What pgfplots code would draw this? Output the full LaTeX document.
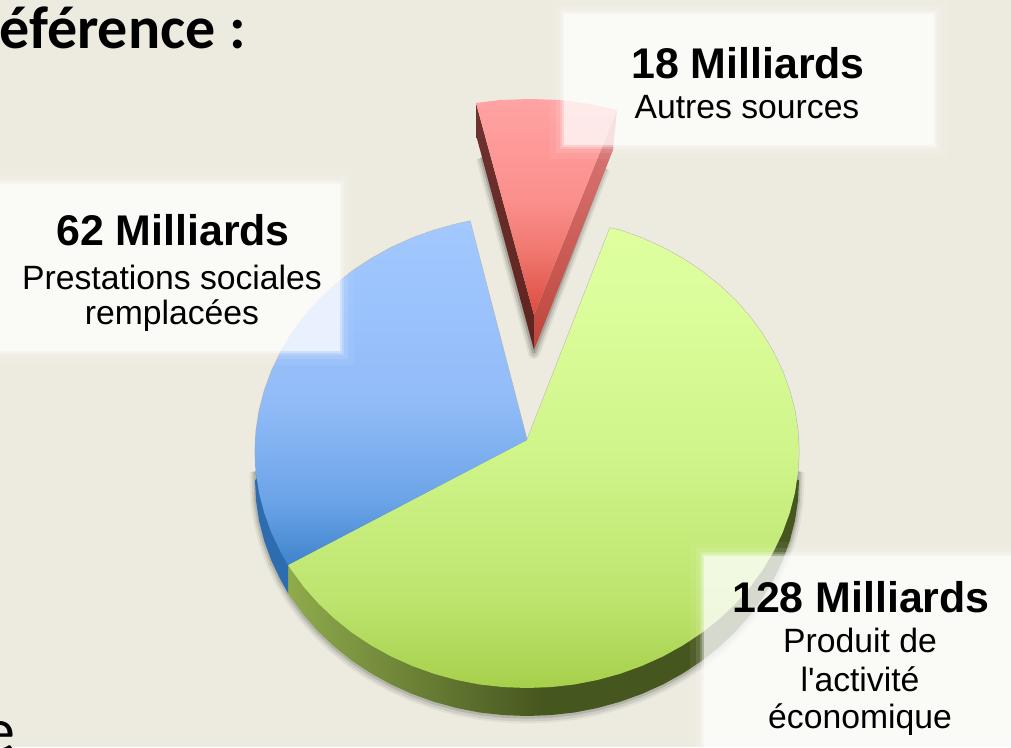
\documentclass[border=0pt]{standalone}
\usepackage{fontspec}
\usepackage{pgfplots}
\usepackage{pgfplotstable}
\pgfplotsset{compat=1.18}
\setmainfont{Liberation Sans}[Ligatures=TeXOff]
\newfontfamily\carlito{Carlito}
\definecolor{bg}{HTML}{EDEBE0}
\definecolor{gsA}{HTML}{8FAB4C}
\definecolor{gsB}{HTML}{46561F}
\definecolor{bs}{HTML}{2E6CB0}
\definecolor{gA}{HTML}{DFFF9E}
\definecolor{gAb}{HTML}{DCFD9B}
\definecolor{gB}{HTML}{D0F58B}
\definecolor{gBb}{HTML}{BDE46E}
\definecolor{gC}{HTML}{A6D04B}
\definecolor{bA}{HTML}{A3C8FF}
\definecolor{bB}{HTML}{92BCF8}
\definecolor{bBb}{HTML}{6CA4E8}
\definecolor{bC}{HTML}{3F84CC}
\definecolor{rlA}{HTML}{70332F}
\definecolor{rlB}{HTML}{5E231F}
\definecolor{rrA}{HTML}{DC7C7C}
\definecolor{rrB}{HTML}{BE453A}
\definecolor{rA}{HTML}{FFA3A3}
\definecolor{rB}{HTML}{FB8F8C}
\definecolor{rBb}{HTML}{F07870}
\definecolor{rC}{HTML}{DC4C3F}
\pgfdeclareverticalshading{greenS}{100bp}{color(0bp)=(gC); color(25bp)=(gC); color(34.6bp)=(gBb); color(51bp)=(gB); color(67bp)=(gAb); color(75bp)=(gA); color(100bp)=(gA)}
\pgfdeclareverticalshading{blueS}{100bp}{color(0bp)=(bC); color(25bp)=(bC); color(34.4bp)=(bBb); color(49bp)=(bB); color(75bp)=(bA); color(100bp)=(bA)}
\pgfdeclareverticalshading{redS}{100bp}{color(0bp)=(rC); color(25bp)=(rC); color(40bp)=(rBb); color(51.6bp)=(rB); color(75bp)=(rA); color(100bp)=(rA)}
\pgfplotstableread{
x y
799 452
798 431.4
794.9 410.9
789.7 390.9
782.6 371.3
773.5 352.3
762.6 334
749.8 316.6
735.4 300.3
719.3 285.1
701.9 271.2
683 258.7
663 247.6
641.9 238.1
620 230.2
610 228
527 440
288 565
291.4 570
304.2 587.4
318.6 603.7
334.7 618.9
352.1 632.8
371 645.3
391 656.4
412.1 665.9
434 673.8
456.6 680
479.7 684.5
503.3 687.1
527 688
550.7 687.1
574.3 684.5
597.4 680
620 673.8
641.9 665.9
663 656.4
683 645.3
701.9 632.8
719.3 618.9
735.4 603.7
749.8 587.4
762.6 570
773.5 551.7
782.6 532.7
789.7 513.1
794.9 493.1
798 472.6
}\greenface
\pgfplotstableread{
x y
527 440
470 221
456.6 224
434 230.2
412.1 238.1
391 247.6
371 258.7
352.1 271.2
334.7 285.1
318.6 300.3
304.2 316.6
291.4 334
280.5 352.3
271.4 371.3
264.3 390.9
259.1 410.9
256 431.4
255 452
256 472.6
259.1 493.1
264.3 513.1
271.4 532.7
280.5 551.7
288 565
}\blueface
\pgfplotstableread{
x y
799 480
798 500.6
794.9 521.1
789.7 541.1
782.6 560.7
773.5 579.7
762.6 598
749.8 615.4
735.4 631.7
719.3 646.9
701.9 660.8
683 673.3
663 684.4
641.9 693.9
620 701.8
597.4 708
574.3 712.5
550.7 715.1
527 716
503.3 715.1
479.7 712.5
456.6 708
434 701.8
412.1 693.9
391 684.4
371 673.3
352.1 660.8
334.7 646.9
318.6 631.7
304.2 615.4
291.4 598
288 593
288 565
527 440
}\greenside
\pgfplotstableread{
x y
255 480
256 500.6
259.1 521.1
264.3 541.1
271.4 560.7
280.5 579.7
288 593
288 565
300 452
}\blueside
\pgfplotstableread{
x y
255 470
256 500.6
259.1 521.1
264.3 541.1
271.4 560.7
280.5 579.7
291.4 598
304.2 615.4
318.6 631.7
334.7 646.9
352.1 660.8
371 673.3
391 684.4
412.1 693.9
434 701.8
456.6 708
479.7 712.5
503.3 715.1
527 716
550.7 715.1
574.3 712.5
597.4 708
620 701.8
641.9 693.9
663 684.4
683 673.3
701.9 660.8
719.3 646.9
735.4 631.7
749.8 615.4
762.6 598
773.5 579.7
782.6 560.7
789.7 541.1
794.9 521.1
798 500.6
799 470
}\piebottom
\pgfplotstableread{
x y
476 103
500 100
530 99
560 100
590 104
617 110
534 315
}\redface
\pgfplotstableread{
x y
476 103
476 135
534 350
534 315
}\redleft
\pgfplotstableread{
x y
617 110
613 150
534 350
534 315
}\redright
\pgfplotstableread{
x y
482 155
534 350
604 165
}\redshadow
\begin{document}
\begin{tikzpicture}
\clip (0,0) rectangle (1011pt,747pt);
\begin{axis}[
  at={(0,0)}, anchor=south west,
  scale only axis, width=1011pt, height=747pt,
  xmin=0, xmax=1011, ymin=0, ymax=747, y dir=reverse,
  hide axis, no markers, clip=false,
  every axis plot/.append style={line join=round},
  shad/.style={draw=black, fill=none, draw opacity=#1},
  pan/.style={fill=white, fill opacity=#1, draw=none},
]
% background
\addplot[fill=bg, draw=none] coordinates {(0,0) (1011,0) (1011,747) (0,747)} -- cycle;
% shadows
\addplot[shad=0.05, line width=11pt, yshift=-2pt] table[x=x,y=y] {\piebottom};
\addplot[shad=0.08, line width=7pt, yshift=-2pt] table[x=x,y=y] {\piebottom};
\addplot[shad=0.12, line width=3.5pt, yshift=-1pt] table[x=x,y=y] {\piebottom};
\addplot[shad=0.06, line width=12pt, yshift=-3pt] table[x=x,y=y] {\redshadow};
\addplot[shad=0.10, line width=8pt, yshift=-3pt] table[x=x,y=y] {\redshadow};
\addplot[shad=0.16, line width=4pt, yshift=-2pt] table[x=x,y=y] {\redshadow};
\addplot[shad=0.22, line width=1pt] table[x=x,y=y] {\greenface} -- cycle;
\addplot[shad=0.22, line width=1pt] table[x=x,y=y] {\blueface} -- cycle;
% pie sides
\addplot[draw=none, left color=gsA, right color=gsB, middle color=gsB] table[x=x,y=y] {\greenside} -- cycle;
\addplot[draw=none, fill=bs] table[x=x,y=y] {\blueside} -- cycle;
% pie faces
\addplot[draw=none, shade, shading=greenS] table[x=x,y=y] {\greenface} -- cycle;
\addplot[draw=none, shade, shading=blueS] table[x=x,y=y] {\blueface} -- cycle;
% exploded slice
\addplot[draw=none, top color=rlA, bottom color=rlB] table[x=x,y=y] {\redleft} -- cycle;
\addplot[draw=none, top color=rrA, bottom color=rrB] table[x=x,y=y] {\redright} -- cycle;
\addplot[draw=none, shade, shading=redS] table[x=x,y=y] {\redface} -- cycle;
% label panels
\addplot[pan=0.06] coordinates {(550,0) (948,0) (948,159) (550,159)} -- cycle;
\addplot[pan=0.10] coordinates {(556,6) (942,6) (942,153) (556,153)} -- cycle;
\addplot[pan=0.20] coordinates {(560,10) (938,10) (938,149) (560,149)} -- cycle;
\addplot[pan=0.30] coordinates {(562,12) (936,12) (936,147) (562,147)} -- cycle;
\addplot[pan=0.55] coordinates {(564,14) (934,14) (934,145) (564,145)} -- cycle;
\addplot[pan=0.06] coordinates {(0,170) (354,170) (354,365) (0,365)} -- cycle;
\addplot[pan=0.10] coordinates {(0,176) (348,176) (348,359) (0,359)} -- cycle;
\addplot[pan=0.20] coordinates {(0,180) (344,180) (344,355) (0,355)} -- cycle;
\addplot[pan=0.30] coordinates {(0,182) (342,182) (342,353) (0,353)} -- cycle;
\addplot[pan=0.55] coordinates {(0,184) (340,184) (340,351) (0,351)} -- cycle;
\addplot[pan=0.06] coordinates {(690,542) (1011,542) (1011,747) (690,747)} -- cycle;
\addplot[pan=0.10] coordinates {(696,548) (1011,548) (1011,747) (696,747)} -- cycle;
\addplot[pan=0.20] coordinates {(700,552) (1011,552) (1011,747) (700,747)} -- cycle;
\addplot[pan=0.30] coordinates {(702,554) (1011,554) (1011,747) (702,747)} -- cycle;
\addplot[pan=0.55] coordinates {(704,556) (1011,556) (1011,747) (704,747)} -- cycle;
% texts
\def\bigtxt{\fontsize{42.9}{48}\selectfont\bfseries}
\def\regtxt{\fontsize{33.7}{40}\selectfont}
\node[anchor=base] at (axis cs:748,78) {\bigtxt 18 Milliards};
\node[anchor=base] at (axis cs:747,118) {\regtxt Autres sources};
\node[anchor=base] at (axis cs:173,245) {\bigtxt 62 Milliards};
\node[anchor=base] at (axis cs:172,289) {\regtxt Prestations sociales};
\node[anchor=base] at (axis cs:172,324) {\regtxt remplacées};
\node[anchor=base] at (axis cs:861,612) {\bigtxt 128 Milliards};
\node[anchor=base] at (axis cs:860,652) {\regtxt Produit de};
\node[anchor=base] at (axis cs:860,691) {\regtxt l'activité};
\node[anchor=base] at (axis cs:860,728) {\regtxt économique};
\node[anchor=base east, inner sep=0pt] at (axis cs:246,48) {\fontsize{60}{70}\selectfont\carlito\bfseries Référence :};
\node[anchor=base east, inner sep=0pt] at (axis cs:16,752) {\fontsize{64}{70}\selectfont\carlito e};
\end{axis}
\end{tikzpicture}
\end{document}
